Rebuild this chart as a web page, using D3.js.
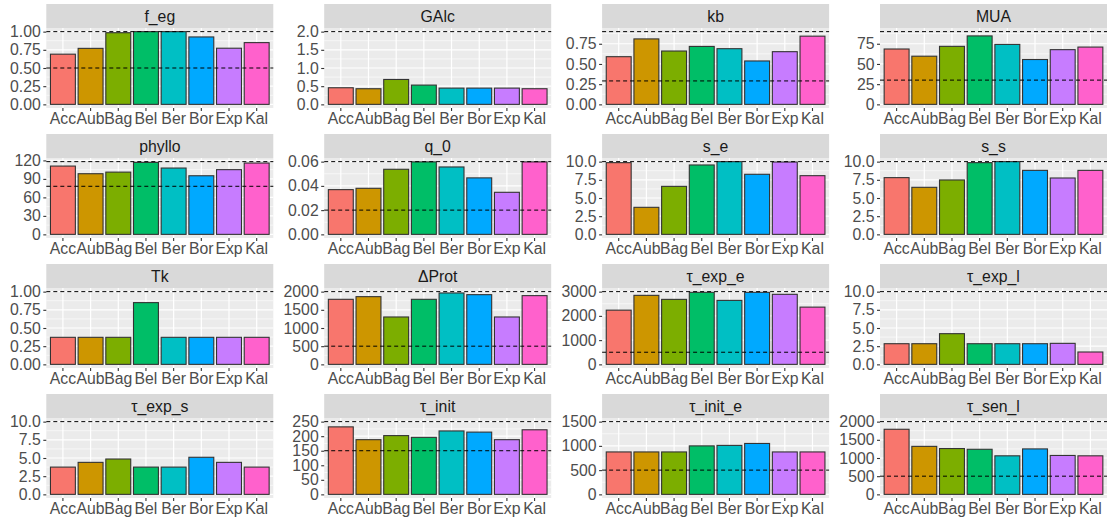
<!DOCTYPE html>
<html><head><meta charset="utf-8">
<script src="https://cdn.jsdelivr.net/npm/d3@7"></script>
<style>body{margin:0;background:#fff}svg{display:block}</style>
</head><body><svg id="c" width="1108" height="522"></svg>
<script>
// ---------------- data ----------------
const categories = ["Acc","Aub","Bag","Bel","Ber","Bor","Exp","Kal"];
const colors = ["#F8766D","#CD9600","#7CAE00","#00BE67","#00BFC4","#00A9FF","#C77CFF","#FF61CC"];
const panelNames = ["f_eg","GAlc","kb","MUA","phyllo","q_0","s_e","s_s","Tk","ΔProt","τ_exp_e","τ_exp_l","τ_exp_s","τ_init","τ_init_e","τ_sen_l"];

const v_f_eg     = [0.69, 0.77, 0.985, 1.0, 1.0, 0.927, 0.772, 0.849];
const v_GAlc     = [0.457, 0.43, 0.685, 0.53, 0.447, 0.447, 0.447, 0.43];
const v_kb       = [0.59, 0.81, 0.66, 0.717, 0.689, 0.537, 0.652, 0.844];
const v_MUA      = [68.5, 59.6, 71.8, 84.7, 74.2, 55.5, 67.7, 70.9];
const v_phyllo   = [110.8, 98.4, 101, 116.8, 107.6, 95.1, 105, 115.7];
const v_q_0      = [0.0369, 0.038, 0.0537, 0.0598, 0.0556, 0.0466, 0.0347, 0.0598];
const v_s_e      = [9.86, 3.72, 6.6, 9.54, 10, 8.26, 9.95, 8.07];
const v_s_s      = [7.8, 6.47, 7.48, 9.86, 10, 8.8, 7.75, 8.8];
const v_Tk       = [0.372, 0.372, 0.372, 0.849, 0.372, 0.372, 0.372, 0.372];
const v_dProt    = [1789, 1862, 1303, 1789, 1963, 1917, 1303, 1890];
const v_exp_e    = [2236, 2847, 2681, 2972, 2639, 2972, 2889, 2361];
const v_exp_l    = [2.84, 2.84, 4.22, 2.84, 2.84, 2.84, 2.89, 1.7];
const v_exp_s    = [3.75, 4.4, 4.86, 3.75, 3.75, 5.1, 4.4, 3.75];
const v_init     = [232, 188, 202, 196, 218, 214, 188, 222];
const v_init_e   = [875, 875, 875, 1000, 1010, 1050, 875, 875];
const v_sen_l    = [1790, 1320, 1260, 1240, 1060, 1250, 1070, 1060];

const b_f_eg = [0.5, 1.0], b_GAlc = [2.0], b_kb = [0.29, 0.9], b_MUA = [30, 90],
      b_phyllo = [78, 118], b_q_0 = [0.02, 0.06], b_s_e = [10], b_s_s = [10],
      b_Tk = [1.0], b_dProt = [500, 2000], b_exp_e = [500, 3000], b_exp_l = [10],
      b_exp_s = [10], b_init = [150, 250], b_init_e = [500, 1500], b_sen_l = [500, 2000];

const t_f_eg = ["0.00","0.25","0.50","0.75","1.00"];
const t_GAlc = ["0.0","0.5","1.0","1.5","2.0"];
const t_kb = ["0.00","0.25","0.50","0.75"];
const t_MUA = ["0","25","50","75"];
const t_phyllo = ["0","30","60","90","120"];
const t_q_0 = ["0.00","0.02","0.04","0.06"];
const t_s = ["0.0","2.5","5.0","7.5","10.0"];
const t_Tk = ["0.00","0.25","0.50","0.75","1.00"];
const t_dProt = ["0","500","1000","1500","2000"];
const t_exp_e = ["0","1000","2000","3000"];
const t_init = ["0","50","100","150","200","250"];
const t_init_e = ["0","500","1000","1500"];
const t_sen_l = ["0","500","1000","1500","2000"];

const panelValues = [v_f_eg,v_GAlc,v_kb,v_MUA,v_phyllo,v_q_0,v_s_e,v_s_s,v_Tk,v_dProt,v_exp_e,v_exp_l,v_exp_s,v_init,v_init_e,v_sen_l];
const panelBounds = [b_f_eg,b_GAlc,b_kb,b_MUA,b_phyllo,b_q_0,b_s_e,b_s_s,b_Tk,b_dProt,b_exp_e,b_exp_l,b_exp_s,b_init,b_init_e,b_sen_l];
const panelTicks  = [t_f_eg,t_GAlc,t_kb,t_MUA,t_phyllo,t_q_0,t_s,t_s,t_Tk,t_dProt,t_exp_e,t_s,t_s,t_init,t_init_e,t_sen_l];

// ---------------- layout ----------------
const svg = d3.select("#c");
const FONT = "'Liberation Sans', Arial, sans-serif";
const FS = 15.8;
const W = 227, colX0 = 46.3, colPitch = 277.9;
const stripH = 24, panelH = 80, rowY0 = 4, rowPitch = 130;

panelNames.forEach((name, i) => {
  const col = i % 4, row = Math.floor(i / 4);
  const px = colX0 + col * colPitch;
  const sy = rowY0 + row * rowPitch;
  const py = sy + stripH, pb = py + panelH;
  const vals = panelValues[i], bnds = panelBounds[i], tks = panelTicks[i];
  const g = svg.append("g");

  // strip
  g.append("rect").attr("x", px).attr("y", sy).attr("width", W).attr("height", stripH).attr("fill", "#D9D9D9");
  g.append("text").attr("x", px + W / 2).attr("y", sy + stripH / 2).attr("dy", "0.35em")
    .attr("text-anchor", "middle").attr("fill", "#1A1A1A").style("font", `${FS}px ${FONT}`).text(name);

  // panel bg
  g.append("rect").attr("x", px).attr("y", py).attr("width", W).attr("height", panelH).attr("fill", "#EBEBEB");

  const hi = d3.max(vals.concat(bnds)), lo = 0, pad = (hi - lo) * 0.05;
  const y = d3.scaleLinear().domain([lo - pad, hi + pad]).range([pb, py]);
  const x = d3.scaleBand().domain(categories).range([px, px + W]).paddingInner(0.1).paddingOuter(0.15);

  const tv = tks.map(Number);
  const step = tv[1] - tv[0];
  // minor grid
  const minors = [];
  for (let k = tv[0] - step / 2; k <= hi + pad; k += step) if (k >= lo - pad) minors.push(k);
  g.selectAll(".mn").data(minors).enter().append("line")
    .attr("x1", px).attr("x2", px + W).attr("y1", d => y(d)).attr("y2", d => y(d))
    .attr("stroke", "#fff").attr("stroke-width", 0.6);
  // major grid
  g.selectAll(".mj").data(tv).enter().append("line")
    .attr("x1", px).attr("x2", px + W).attr("y1", d => y(d)).attr("y2", d => y(d))
    .attr("stroke", "#fff").attr("stroke-width", 1.2);
  g.selectAll(".vx").data(categories).enter().append("line")
    .attr("x1", d => x(d) + x.bandwidth() / 2).attr("x2", d => x(d) + x.bandwidth() / 2)
    .attr("y1", py).attr("y2", pb).attr("stroke", "#fff").attr("stroke-width", 1.2);

  // bars
  g.selectAll(".bar").data(vals).enter().append("rect")
    .attr("x", (d, j) => x(categories[j])).attr("width", x.bandwidth())
    .attr("y", d => y(d)).attr("height", d => y(0) - y(d))
    .attr("fill", (d, j) => colors[j]).attr("stroke", "#333").attr("stroke-width", 1.1);

  // bounds
  g.selectAll(".hl").data(bnds).enter().append("line")
    .attr("x1", px).attr("x2", px + W).attr("y1", d => y(d)).attr("y2", d => y(d))
    .attr("stroke", "#000").attr("stroke-width", 1).attr("stroke-dasharray", "4,3");

  // axes
  const ya = g.append("g").attr("transform", `translate(${px},0)`)
    .call(d3.axisLeft(y).tickValues(tv).tickFormat((d, j) => tks[j]).tickSize(3).tickPadding(2.5));
  const xa = g.append("g").attr("transform", `translate(0,${pb})`)
    .call(d3.axisBottom(x).tickSize(3).tickPadding(1.5));
  [ya, xa].forEach(a => {
    a.select(".domain").remove();
    a.selectAll(".tick line").attr("stroke", "#333").attr("stroke-width", 1.1);
    a.selectAll(".tick text").attr("fill", "#4D4D4D").style("font", `${FS}px ${FONT}`);
  });
});
</script></body></html>
